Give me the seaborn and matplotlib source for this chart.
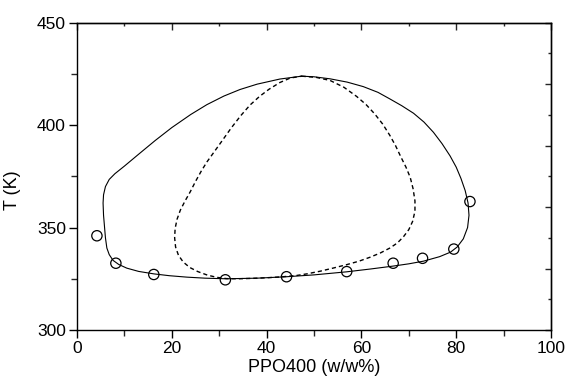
import matplotlib
matplotlib.use("Agg")
import matplotlib.pyplot as plt
import seaborn as sns
import pandas as pd
from matplotlib.ticker import MultipleLocator

# Experimental cloud points
exp_x = [4.2, 8.2, 16.2, 31.3, 44.2, 56.9, 66.7, 72.9, 79.5, 82.9]
exp_T = [346.0, 332.6, 327.1, 324.5, 326.0, 328.5, 332.6, 335.0, 339.5, 362.7]

# Binodal (solid) curve, traced as a closed loop (clockwise from the top)
bin_x = [47.4, 50.0, 53.4, 57.0, 60.4, 63.5, 66.0, 68.5, 71.0, 73.2, 75.2, 77.0,
         78.7, 80.0, 81.0, 81.9, 82.5, 82.7, 82.4, 81.5, 80.2, 78.8, 76.5, 73.1,
         70.0, 66.7, 62.0, 56.9, 50.0, 44.2, 38.0, 31.5, 27.0, 23.2, 19.5, 16.2,
         13.0, 10.5, 8.8, 7.6, 6.8, 6.3, 6.0, 5.8, 5.6, 5.5, 5.6, 6.0,
         6.8, 8.0, 10.0, 13.0, 16.5, 20.0, 24.0, 27.4, 31.0, 34.4, 38.0, 42.8,
         47.4]
bin_T = [423.9, 423.6, 422.6, 421.0, 418.8, 416.0, 412.8, 409.5, 405.8, 401.5, 396.5, 391.0,
         385.0, 379.5, 374.0, 368.0, 362.0, 356.0, 350.0, 344.5, 340.5, 338.0, 335.8, 333.6,
         332.3, 331.2, 329.8, 328.4, 326.9, 326.0, 325.3, 325.0, 325.3, 325.8, 326.5, 327.4,
         328.6, 330.2, 332.0, 334.0, 336.8, 340.0, 345.0, 350.5, 356.0, 362.0, 366.0, 370.0,
         373.5, 376.3, 380.0, 385.8, 392.5, 398.8, 405.2, 410.0, 414.2, 417.4, 420.0, 422.5,
         423.9]

# Spinodal (dashed) curve, traced as a closed loop (clockwise from the top)
spi_x = [47.4, 50.5, 53.4, 56.3, 59.0, 61.0, 62.8, 64.5, 66.0, 67.2, 68.3, 69.4,
         70.3, 70.9, 71.3, 71.3, 70.8, 70.0, 68.9, 67.6, 66.0, 64.0, 61.8, 59.5,
         56.9, 54.0, 51.3, 48.5, 46.3, 43.0, 40.0, 37.0, 34.0, 31.5, 29.5, 27.5,
         25.5, 23.8, 22.4, 21.4, 20.8, 20.6, 20.7, 21.1, 21.8, 22.8, 23.9, 25.0,
         26.2, 27.4, 28.8, 30.5, 32.5, 34.5, 36.5, 38.5, 40.5, 42.8, 45.0, 47.4]
spi_T = [423.9, 423.3, 421.8, 418.5, 414.0, 410.0, 405.5, 400.5, 395.0, 390.0, 384.6, 379.5,
         374.5, 369.0, 363.0, 358.0, 353.0, 349.0, 345.6, 342.5, 340.0, 337.6, 335.5, 333.6,
         331.9, 330.2, 328.7, 327.4, 326.6, 325.9, 325.5, 325.2, 325.0, 325.1, 325.7, 326.8,
         328.5, 330.5, 333.2, 336.5, 340.5, 345.0, 349.5, 354.0, 358.5, 363.0, 367.5, 372.5,
         377.5, 382.0, 386.5, 392.0, 398.5, 404.5, 409.8, 414.0, 417.5, 420.8, 423.0, 423.9]

sns.set_theme(style="ticks")
plt.rcParams['font.family'] = ['Liberation Sans', 'DejaVu Sans']

fig = plt.figure(figsize=(5.67, 3.88), dpi=100)
ax = fig.add_axes([77/567, 1 - 330/388, (551-77)/567, (330-22.7)/388])

df_bin = pd.DataFrame({"x": bin_x, "T": bin_T})
df_spi = pd.DataFrame({"x": spi_x, "T": spi_T})

sns.lineplot(data=df_bin, x="x", y="T", sort=False, estimator=None, color="black",
             linewidth=0.8, ax=ax)
sns.lineplot(data=df_spi, x="x", y="T", sort=False, estimator=None, color="black",
             linewidth=1.0, ax=ax)
ax.lines[-1].set_dashes([3, 2.2])
sns.scatterplot(x=exp_x, y=exp_T, marker="o", s=55, facecolor="none",
                edgecolor="black", linewidth=0.9, ax=ax, zorder=3)

ax.set_xlim(0, 100)
ax.set_ylim(300, 450)

for s in ax.spines.values():
    s.set_linewidth(1.0)
    s.set_color("black")

ax.xaxis.set_major_locator(MultipleLocator(20))
ax.xaxis.set_minor_locator(MultipleLocator(10))
ax.yaxis.set_major_locator(MultipleLocator(50))
ax.yaxis.set_minor_locator(MultipleLocator(25))
ax.tick_params(axis="both", which="major", direction="out", length=6, width=1.0,
               labelsize=12.5, colors="black", pad=2)
ax.tick_params(axis="both", which="minor", direction="out", length=4, width=1.0)
ax.tick_params(top=False, right=False)

# top axis ticks (inward, no labels)
top = ax.secondary_xaxis("top")
top.xaxis.set_major_locator(MultipleLocator(20))
top.xaxis.set_minor_locator(MultipleLocator(10))
top.tick_params(which="major", direction="in", length=5, width=1.0, labeltop=False)
top.tick_params(which="minor", direction="in", length=2.5, width=1.0)
top.set_xticklabels([])
top.spines["top"].set_linewidth(1.0)

# right axis ticks (inward, no labels)
right = ax.secondary_yaxis("right")
right.yaxis.set_major_locator(MultipleLocator(30))
right.yaxis.set_minor_locator(MultipleLocator(15))
right.tick_params(which="major", direction="in", length=4.5, width=1.0, labelright=False)
right.tick_params(which="minor", direction="in", length=2.5, width=1.0)
right.set_yticklabels([])
right.spines["right"].set_linewidth(1.0)

ax.set_xlabel("PPO400 (w/w%)", fontsize=13, color="black", labelpad=2)
ax.set_ylabel("T (K)", fontsize=13, color="black")
ax.yaxis.set_label_coords(-0.118, 0.455)

fig.savefig("out.png", dpi=100)
